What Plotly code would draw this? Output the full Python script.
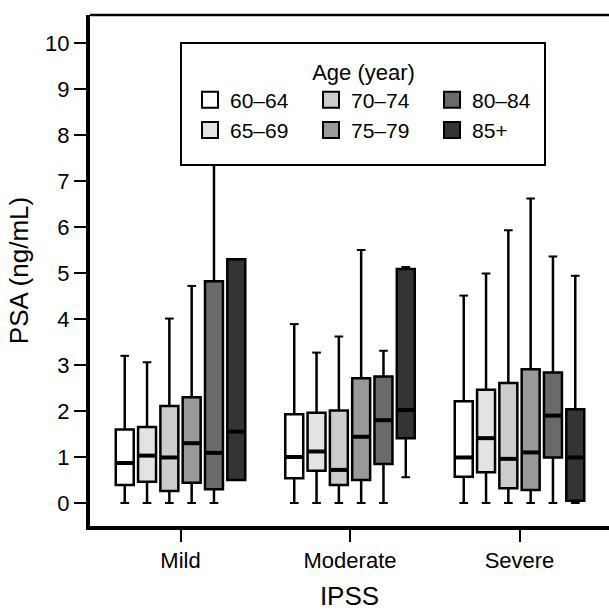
import plotly.graph_objects as go

# ---------------- data ----------------
groups = ["Mild", "Moderate", "Severe"]
ages = ["60–64", "65–69", "70–74", "75–79", "80–84", "85+"]

# each inner list: values for [Mild, Moderate, Severe]
lower_whisker = [
    [0.00, 0.00, 0.00],
    [0.00, 0.00, 0.00],
    [0.00, 0.00, 0.00],
    [0.00, 0.00, 0.00],
    [0.00, 0.00, 0.00],
    [0.50, 0.56, 0.00],
]
q1 = [
    [0.39, 0.54, 0.57],
    [0.46, 0.70, 0.67],
    [0.26, 0.39, 0.32],
    [0.44, 0.50, 0.28],
    [0.30, 0.85, 0.99],
    [0.50, 1.41, 0.05],
]
median = [
    [0.87, 1.00, 0.99],
    [1.03, 1.12, 1.41],
    [0.99, 0.72, 0.96],
    [1.30, 1.44, 1.10],
    [1.09, 1.80, 1.90],
    [1.55, 2.02, 0.99],
]
q3 = [
    [1.60, 1.93, 2.21],
    [1.65, 1.96, 2.46],
    [2.11, 2.01, 2.61],
    [2.30, 2.71, 2.91],
    [4.82, 2.75, 2.84],
    [5.30, 5.09, 2.04],
]
upper_whisker = [
    [3.20, 3.89, 4.51],
    [3.06, 3.27, 4.99],
    [4.01, 3.62, 5.93],
    [4.72, 5.50, 6.62],
    [8.80, 3.31, 5.36],
    [5.30, 5.13, 4.94],
]
y_ticks = list(range(0, 11))

# ---------------- style ----------------
fills = ["#ffffff", "#e3e3e3", "#cccccc", "#999999", "#6a6a6a", "#343434"]
slot = 0.1316      # spacing between boxes inside a group (x units)
box_w = 0.106      # box width (x units)
FONT = "Liberation Sans, Arial, Helvetica, sans-serif"

fig = go.Figure()
n_age = len(ages)
for j, age in enumerate(ages):
    xs = [g + (j - (n_age - 1) / 2) * slot for g in range(len(groups))]
    fig.add_trace(go.Box(
        x=xs, q1=q1[j], median=median[j], q3=q3[j],
        lowerfence=lower_whisker[j], upperfence=upper_whisker[j],
        width=box_w, fillcolor=fills[j],
        line=dict(color="black", width=2.5),
        whiskerwidth=0, boxpoints=False,
        showlegend=False, hoverinfo="skip", name=age,
    ))
for j, age in enumerate(ages):
    xs = [g + (j - (n_age - 1) / 2) * slot for g in range(len(groups))]
    # thick median bars
    fig.add_trace(go.Scatter(
        x=xs, y=median[j], mode="markers",
        marker=dict(symbol="line-ew", size=12.5, color="black",
                    line=dict(width=4, color="black")),
        showlegend=False, hoverinfo="skip",
    ))
    # whisker caps
    fig.add_trace(go.Scatter(
        x=xs + xs, y=lower_whisker[j] + upper_whisker[j], mode="markers",
        marker=dict(symbol="line-ew", size=6.2, color="black",
                    line=dict(width=2, color="black")),
        showlegend=False, hoverinfo="skip",
    ))
# legend entries (grouped in columns of two)
for j, age in enumerate(ages):
    fig.add_trace(go.Scatter(
        x=[None], y=[None], mode="markers", name=age,
        legendgroup="col%d" % (j // 2),
        legendwidth=60 if j >= 4 else None,
        marker=dict(symbol="square", size=16, color=fills[j],
                    line=dict(color="black", width=2)),
        hoverinfo="skip",
    ))

fig.update_layout(
    width=609, height=611,
    margin=dict(l=90, r=0, t=15, b=85),
    plot_bgcolor="white", paper_bgcolor="white",
    font=dict(family=FONT, size=22, color="black"),
    xaxis=dict(
        range=[-0.534, 2.528], tickmode="array", tickvals=list(range(len(groups))),
        ticktext=groups, showline=True, linewidth=4, linecolor="black",
        ticks="outside", ticklen=12, tickwidth=2, tickcolor="black",
        showgrid=False, zeroline=False, automargin=False,
        title=dict(text="IPSS", standoff=29),
    ),
    yaxis=dict(
        range=[-0.5, 10.61], tickmode="array", tickvals=y_ticks,
        showline=True, linewidth=4, linecolor="black",
        ticks="outside", ticklen=12, tickwidth=2, tickcolor="black",
        showgrid=False, zeroline=False, automargin=False,
        title=dict(text="PSA (ng/mL)", standoff=10),
    ),
    legend=dict(
        orientation="h", traceorder="grouped",
        x=0.1927, y=0.9295, xanchor="left", yanchor="top",
        bgcolor="rgba(0,0,0,0)", borderwidth=0,
        title=dict(text="Age (year)", side="top center", font=dict(size=22)),
        tracegroupgap=0, entrywidth=76, itemsizing="trace",
        font=dict(size=21),
    ),
    shapes=[
        dict(type="line", xref="paper", yref="paper", x0=0, x1=1, y0=1, y1=1,
             line=dict(color="black", width=2.5)),
        # legend frame
        dict(type="rect", xref="paper", yref="paper", layer="above",
             x0=(181 - 90) / 519, x1=(545 - 90) / 519,
             y0=(526 - 165) / 511, y1=(526 - 43) / 511,
             fillcolor="white", line=dict(color="black", width=2)),
    ],
    showlegend=True,
)

fig.write_html("out.html")
